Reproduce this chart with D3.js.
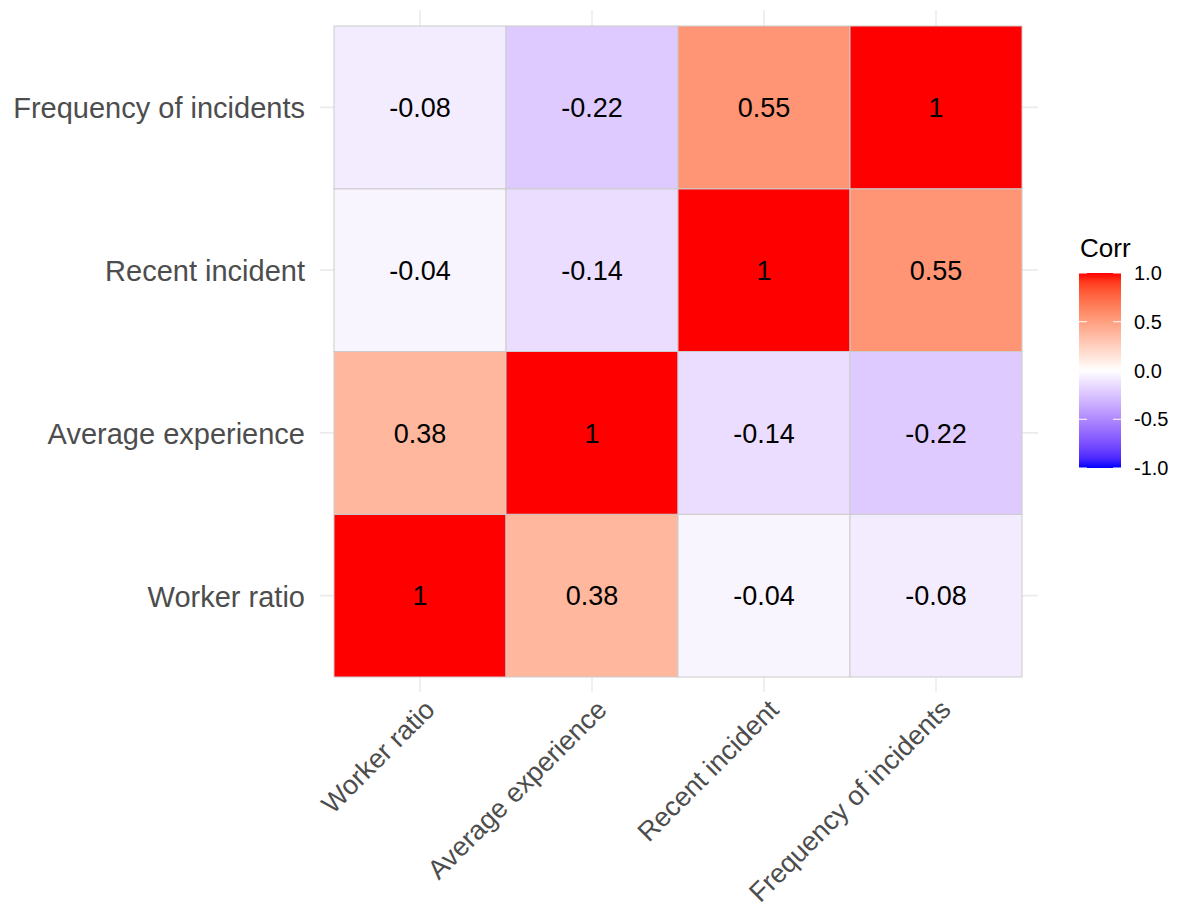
<!DOCTYPE html>
<meta charset="utf-8">
<style>
  body { margin: 0; background: #fff; }
  text { font-family: "Liberation Sans", Arial, sans-serif; }
</style>
<svg width="1177" height="911"></svg>
<script src="https://d3js.org/d3.v7.min.js"></script>
<script>

// variables, in axis order (bottom to top on y, left to right on x)
var vars = ["Worker ratio", "Average experience", "Recent incident", "Frequency of incidents"];

// correlation rows, one per variable, same order as vars
var workerRatio   = [1, 0.38, -0.04, -0.08];
var avgExperience = [0.38, 1, -0.14, -0.22];
var recentInc     = [-0.04, -0.14, 1, 0.55];
var freqInc       = [-0.08, -0.22, 0.55, 1];
var rows = [workerRatio, avgExperience, recentInc, freqInc];

var legendTicks = [1, 0.5, 0, -0.5, -1];

var svg = d3.select("svg");

var x = d3.scaleBand().domain(vars).range([334, 1022]);
var y = d3.scaleBand().domain(vars).range([677, 26]);

// red / white / blue diverging fill, interpolated in Lab like ggplot's gradient2
var fill = function(v) {
  return v >= 0 ? d3.interpolateLab("#ffffff", "#ff0000")(v)
                : d3.interpolateLab("#ffffff", "#0000ff")(-v);
};

// grid lines
var grid = svg.append("g").attr("stroke", "#ebebeb").attr("stroke-width", 1.6);
grid.selectAll(".vx").data(vars).enter().append("line")
    .attr("x1", function(d) { return x(d) + x.bandwidth() / 2; })
    .attr("x2", function(d) { return x(d) + x.bandwidth() / 2; })
    .attr("y1", 10).attr("y2", 692);
grid.selectAll(".hy").data(vars).enter().append("line")
    .attr("y1", function(d) { return y(d) + y.bandwidth() / 2; })
    .attr("y2", function(d) { return y(d) + y.bandwidth() / 2; })
    .attr("x1", 320).attr("x2", 1038);

// build the cells
var cells = [];
rows.forEach(function(r, i) {
  r.forEach(function(v, j) {
    cells.push({ row: vars[i], col: vars[j], value: v });
  });
});

var tiles = svg.append("g");
tiles.selectAll("rect").data(cells).enter().append("rect")
    .attr("x", function(d) { return x(d.col); })
    .attr("y", function(d) { return y(d.row); })
    .attr("width", x.bandwidth())
    .attr("height", y.bandwidth())
    .attr("fill", function(d) { return fill(d.value); })
    .attr("stroke", "#cccccc")
    .attr("stroke-width", 1);

tiles.selectAll("text").data(cells).enter().append("text")
    .attr("x", function(d) { return x(d.col) + x.bandwidth() / 2; })
    .attr("y", function(d) { return y(d.row) + y.bandwidth() / 2; })
    .attr("dy", "0.36em")
    .attr("text-anchor", "middle")
    .style("font-size", "27px")
    .style("fill", "#000")
    .text(function(d) { return d.value; });

// y axis labels
svg.append("g").selectAll("text").data(vars).enter().append("text")
    .attr("x", 305)
    .attr("y", function(d) { return y(d) + y.bandwidth() / 2; })
    .attr("dy", "0.38em")
    .attr("text-anchor", "end")
    .style("font-size", "29px")
    .style("fill", "#4d4d4d")
    .text(function(d) { return d; });

// x axis labels, rotated 45 degrees
svg.append("g").selectAll("text").data(vars).enter().append("text")
    .attr("transform", function(d) {
      return "translate(" + (x(d) + x.bandwidth() / 2 + 2) + ",697) rotate(-45)";
    })
    .attr("dy", "0.75em")
    .attr("text-anchor", "end")
    .style("font-size", "27px")
    .style("fill", "#4d4d4d")
    .text(function(d) { return d; });

// legend colour bar
var ly = d3.scaleLinear().domain([-1, 1]).range([468, 273]);
var defs = svg.append("defs");
var grad = defs.append("linearGradient").attr("id", "corrGrad")
    .attr("x1", 0).attr("y1", 1).attr("x2", 0).attr("y2", 0);
d3.range(-1, 1.001, 0.1).forEach(function(v) {
  grad.append("stop").attr("offset", (v + 1) / 2).attr("stop-color", fill(Math.max(-1, Math.min(1, v))));
});

var legend = svg.append("g");
legend.append("text")
    .attr("x", 1080).attr("y", 257)
    .style("font-size", "26px")
    .style("fill", "#000")
    .text("Corr");

legend.append("rect")
    .attr("x", 1079).attr("y", ly(1))
    .attr("width", 42).attr("height", ly(-1) - ly(1))
    .attr("fill", "url(#corrGrad)");

legend.selectAll(".tk").data(legendTicks).enter().append("g")
    .each(function(d) {
      var g = d3.select(this);
      g.append("line").attr("x1", 1079).attr("x2", 1087)
          .attr("y1", ly(d)).attr("y2", ly(d)).attr("stroke", "#fff").attr("stroke-width", 1);
      g.append("line").attr("x1", 1113).attr("x2", 1121)
          .attr("y1", ly(d)).attr("y2", ly(d)).attr("stroke", "#fff").attr("stroke-width", 1);
    });

legend.selectAll(".lb").data(legendTicks).enter().append("text")
    .attr("x", 1134)
    .attr("y", function(d) { return ly(d); })
    .attr("dy", "0.36em")
    .style("font-size", "20px")
    .style("fill", "#000")
    .text(function(d) { return d3.format(".1f")(d).replace("\u2212", "-"); });

</script>
